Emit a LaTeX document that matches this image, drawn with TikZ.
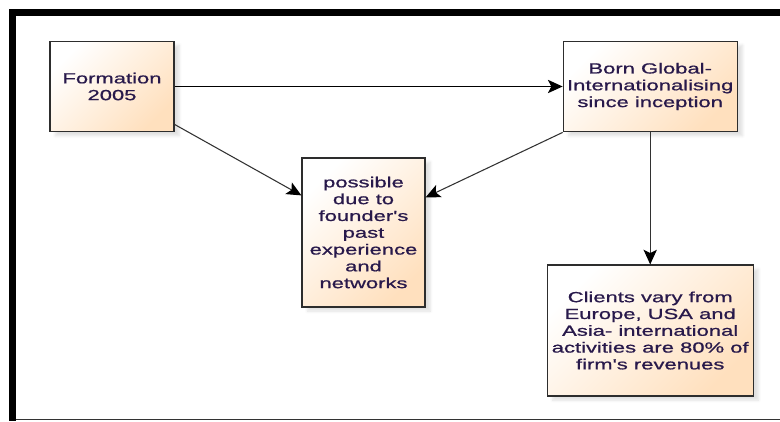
\documentclass[tikz,border=0pt]{standalone}
\usepackage{fontspec}
\setmainfont{Liberation Sans}
\newfontfamily\boxfont[FakeStretch=1.5, FakeBold=0.8]{Liberation Sans}
\usetikzlibrary{arrows.meta, positioning, shadows.blur}
\definecolor{boxpeach}{RGB}{255,224,190}
\definecolor{boxedge}{RGB}{45,45,45}
\definecolor{boxtext}{RGB}{40,25,75}
\definecolor{arrowgray}{RGB}{50,50,50}

\begin{document}
\begin{tikzpicture}[
  x=0.75pt, y=-0.75pt,
  box/.style={draw=boxedge, line width=0.9pt, align=center, inner sep=2pt,
    text=boxtext, font=\boxfont\fontsize{11}{12.6}\selectfont,
    top color=white, bottom color=boxpeach, shading angle=45,
    blur shadow={shadow xshift=4pt, shadow yshift=-3pt, shadow opacity=12, shadow blur steps=6}},
  arr/.style={-{Stealth[length=11pt, width=10pt, inset=2.5pt, black]}, line width=0.8pt, draw=arrowgray}
]
\useasboundingbox (0,0) rectangle (780,421);

% Frame
\fill[black] (9,9) rectangle (780,16);
\fill[black] (9,9) rectangle (16,421);
\draw[line width=0.9pt, black!80] (16,419.5) -- (780,419.5);

% Boxes
\node[box, minimum width=93pt, minimum height=68pt] (formation) at (112,86.5) {Formation\\2005};
\node[box, minimum width=130.5pt, minimum height=68pt, right=291pt of formation] (born)
  {Born Global-\\Internationalising\\since inception};
\node[box, minimum width=92.25pt, minimum height=111.75pt] (possible) at (363.5,232.5)
  {possible\\due to\\founder's\\past\\experience\\and\\networks};
\node[box, minimum width=154.5pt, minimum height=98.25pt, below=99pt of born] (clients)
  {Clients vary from\\Europe, USA and\\Asia- international\\activities are 80\% of\\firm's revenues};

% Arrows
\draw[arr, draw=black] (formation) -- (born);
\draw[arr] ([yshift=6pt]formation.south east) -- ([yshift=-28.5pt]possible.north west);
\draw[arr] (born.south west) -- ([yshift=-30pt]possible.north east);
\draw[arr] (born) -- (clients);

\end{tikzpicture}
\end{document}
